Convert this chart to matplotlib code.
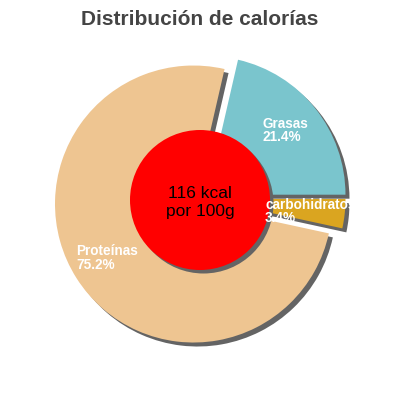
import matplotlib
matplotlib.use("Agg")
import matplotlib.pyplot as plt
from matplotlib.patches import Wedge, Circle

plt.rcParams['font.family'] = ['Liberation Sans', 'DejaVu Sans']

# Data
categories = ["Grasas", "Proteínas", "carbohidratos"]
values = [21.4, 75.2, 3.4]
colors = ["#7AC5CD", "#EEC591", "#DAA520"]
title = "Distribución de calorías"
center_text = "116 kcal\npor 100g"

W = H = 400
R = 138.5
# explode offsets (in pixels, pie drawn in pixel data space)
explode = [6.1, 10.3, 4.8]

fig = plt.figure(figsize=(4, 4), dpi=100)
ax = fig.add_axes([0, 0, 1, 1])

wedges, _ = ax.pie(values, colors=colors, explode=explode, startangle=0,
                   counterclock=True, radius=R, center=(202.2, H - 198.5),
                   frame=True)
ax.set_xlim(0, W)
ax.set_ylim(0, H)
ax.set_aspect('equal')
ax.axis('off')

sh = 4
for w in wedges:
    w.set_zorder(3)
    cx, cy = w.center
    s = Wedge((cx + sh, cy - sh), w.r, w.theta1, w.theta2,
              facecolor="#646464", edgecolor='none', zorder=2)
    ax.add_patch(s)

# center circle with shadow
ax.add_patch(Circle((200 + 3.5, H - 200 - 3.5), 70, facecolor="#646464",
                    edgecolor='none', zorder=4))
ax.add_patch(Circle((200, H - 200), 70, facecolor="#FF0000",
                    edgecolor='none', zorder=5))
ax.text(200, H - 216, center_text, ha='center', va='baseline',
        fontsize=12.5, color='black', zorder=6, linespacing=1.28,
        multialignment='center')

# (x, baseline of last line) in pixels from top-left
label_pos = {"Grasas": (262.5, 141.3), "Proteínas": (76.5, 268.8),
             "carbohidratos": (265, 222.0)}
for cat, v in zip(categories, values):
    x, y = label_pos[cat]
    ax.text(x, H - y, f"{cat}\n{v:.1f}%", ha='left', va='baseline',
            fontsize=9.8, fontweight='bold', color='white', zorder=7,
            linespacing=0.95)

fig.text(0.5, 1 - 25 / H, title, ha='center', va='baseline', fontsize=15,
         fontweight='bold', color='#444444')

fig.savefig("out.png", dpi=100)
